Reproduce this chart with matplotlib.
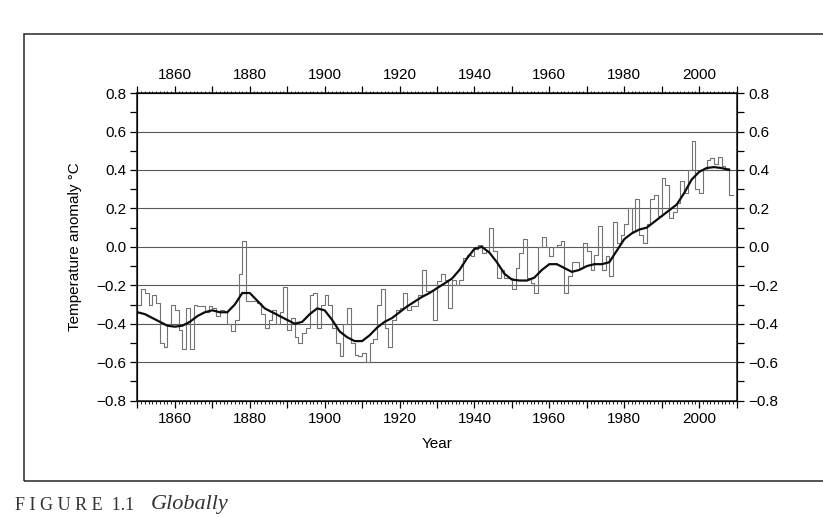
import numpy as np
import matplotlib
matplotlib.use("Agg")
import matplotlib.pyplot as plt
from matplotlib.ticker import MultipleLocator, FuncFormatter
from matplotlib.patches import Rectangle

# annual global temperature anomalies (degC)
years = list(range(1850, 2009))
annual = [
    -0.30, -0.22, -0.24, -0.30, -0.25, -0.29, -0.50, -0.52, -0.40, -0.30,  # 1850s
    -0.33, -0.43, -0.53, -0.32, -0.53, -0.30, -0.31, -0.31, -0.34, -0.31,  # 1860s
    -0.32, -0.36, -0.33, -0.34, -0.40, -0.44, -0.38, -0.14, 0.03, -0.28,   # 1870s
    -0.28, -0.28, -0.29, -0.35, -0.42, -0.38, -0.33, -0.40, -0.34, -0.21,  # 1880s
    -0.43, -0.37, -0.47, -0.50, -0.45, -0.42, -0.25, -0.24, -0.42, -0.30,  # 1890s
    -0.25, -0.30, -0.42, -0.50, -0.57, -0.40, -0.32, -0.50, -0.56, -0.57,  # 1900s
    -0.55, -0.60, -0.50, -0.48, -0.30, -0.22, -0.42, -0.52, -0.38, -0.33,  # 1910s
    -0.32, -0.24, -0.33, -0.31, -0.31, -0.25, -0.12, -0.23, -0.23, -0.38,  # 1920s
    -0.18, -0.14, -0.17, -0.32, -0.17, -0.20, -0.17, -0.06, -0.04, -0.05,  # 1930s
    -0.01, 0.01, -0.03, -0.02, 0.10, -0.02, -0.16, -0.12, -0.16, -0.16,    # 1940s
    -0.22, -0.11, -0.03, 0.04, -0.16, -0.19, -0.24, 0.00, 0.05, 0.00,      # 1950s
    -0.05, 0.00, 0.01, 0.03, -0.24, -0.15, -0.08, -0.08, -0.11, 0.02,      # 1960s
    -0.02, -0.12, -0.04, 0.11, -0.12, -0.05, -0.15, 0.13, 0.02, 0.06,      # 1970s
    0.12, 0.20, 0.08, 0.25, 0.06, 0.02, 0.12, 0.25, 0.27, 0.16,            # 1980s
    0.36, 0.32, 0.15, 0.18, 0.23, 0.34, 0.28, 0.40, 0.55, 0.30,            # 1990s
    0.28, 0.40, 0.45, 0.46, 0.43, 0.47, 0.42, 0.41, 0.27,                  # 2000s
]

# smoothed curve, read every two years
smooth_years = list(range(1850, 2010, 2))
smooth = [
    -0.34, -0.35, -0.37, -0.39, -0.41, -0.415, -0.41, -0.39, -0.36, -0.34,
    -0.33, -0.34, -0.34, -0.30, -0.24, -0.24, -0.28, -0.32, -0.34, -0.36,
    -0.38, -0.40, -0.39, -0.35, -0.32, -0.33, -0.38, -0.44, -0.47, -0.49,
    -0.49, -0.46, -0.42, -0.39, -0.37, -0.34, -0.31, -0.285, -0.26, -0.24,
    -0.215, -0.19, -0.165, -0.12, -0.06, -0.01, 0.00, -0.03, -0.08, -0.14,
    -0.17, -0.175, -0.175, -0.16, -0.12, -0.09, -0.09, -0.11, -0.13, -0.12,
    -0.10, -0.09, -0.09, -0.08, -0.02, 0.04, 0.07, 0.09, 0.10, 0.13,
    0.16, 0.19, 0.22, 0.28, 0.35, 0.39, 0.41, 0.415, 0.41, 0.40,
]

labelled_years = [1860, 1880, 1900, 1920, 1940, 1960, 1980, 2000]

plt.rcParams['font.family'] = ['Liberation Sans', 'DejaVu Sans']

fig = plt.figure(figsize=(8.23, 5.17), dpi=100)
ax = fig.add_axes([0.167, 0.225, 0.728, 0.595])

# outer border of the book figure and the caption below it
fig.patches.append(Rectangle((0.029, 0.07), 1.2, 0.865, transform=fig.transFigure,
                             fill=False, edgecolor='0.15', linewidth=1.1))
fig.text(0.018, 0.006, 'F I G U R E  1.1', family='Liberation Serif', fontsize=13,
         color='0.2', va='bottom')
fig.text(0.183, 0.006, 'Globally', family='Liberation Serif', style='italic',
         fontsize=16, color='0.2', va='bottom')

step_x = years + [years[-1] + 1]
step_y = annual + [annual[-1]]
ax.step(step_x, step_y, where='post', color='0.45', linewidth=0.8)
ax.plot(smooth_years, smooth, color='0.05', linewidth=1.6)

ax.set_xlim(1850, 2010)
ax.set_ylim(-0.8, 0.8)

fmt_year = FuncFormatter(lambda v, p: '%d' % v if int(round(v)) in labelled_years else '')
fmt_val = FuncFormatter(lambda v, p: ('%.1f' % v).replace('-', '\u2212'))

ax.xaxis.set_major_locator(MultipleLocator(10))
ax.xaxis.set_minor_locator(MultipleLocator(1))
ax.xaxis.set_major_formatter(fmt_year)
ax.yaxis.set_major_locator(MultipleLocator(0.2))
ax.yaxis.set_minor_locator(MultipleLocator(0.1))
ax.yaxis.set_major_formatter(fmt_val)

ax.grid(axis='y', which='major', color='0.35', linewidth=0.8)
ax.tick_params(which='major', direction='out', length=5, width=0.9,
               top=True, labeltop=True, labelsize=11, pad=3)
ax.tick_params(axis='x', which='minor', direction='out', length=1.8, width=0.6, top=True)
ax.tick_params(axis='y', which='minor', direction='out', length=5, width=0.9)

for s in ax.spines.values():
    s.set_linewidth(1.1)
    s.set_color('0.1')

ax2 = ax.twinx()
ax2.set_ylim(-0.8, 0.8)
ax2.yaxis.set_major_locator(MultipleLocator(0.2))
ax2.yaxis.set_minor_locator(MultipleLocator(0.1))
ax2.yaxis.set_major_formatter(fmt_val)
ax2.tick_params(which='major', direction='out', length=5, width=0.9, labelsize=11)
ax2.tick_params(which='minor', direction='out', length=5, width=0.9)

ax.set_xlabel('Year', fontsize=11, labelpad=8)
ax.set_ylabel('Temperature anomaly \u00b0C', fontsize=11, labelpad=10)

fig.savefig('out.png', dpi=100)
